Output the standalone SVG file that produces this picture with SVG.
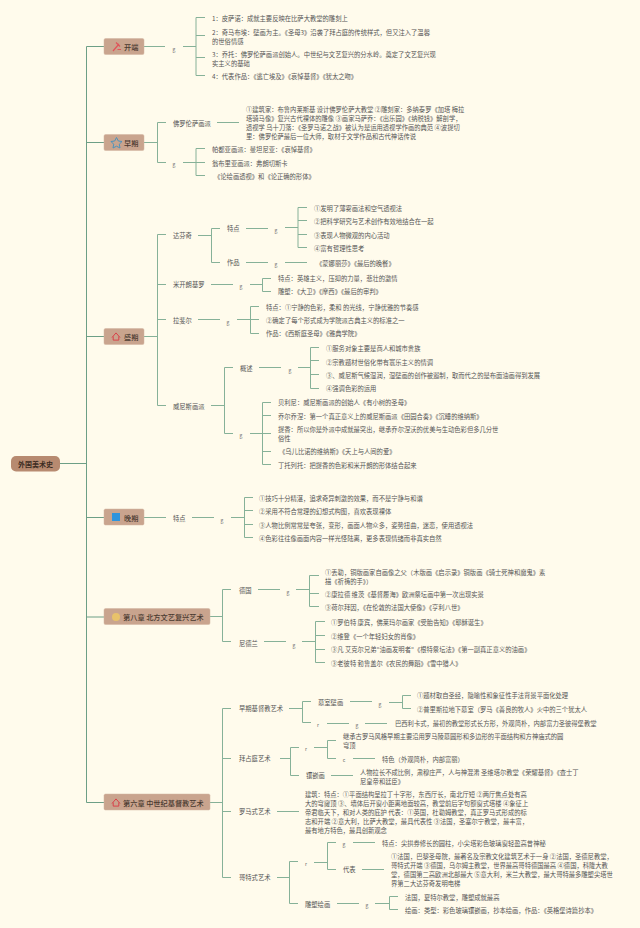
<svg xmlns="http://www.w3.org/2000/svg" xmlns:xlink="http://www.w3.org/1999/xlink" width="640" height="928" viewBox="0 0 640 928">
<style>
text{font-family:"Noto Sans CJK SC","Noto Sans",sans-serif;font-size:6.3px;fill:#555;dominant-baseline:central}
.l{fill:none;stroke:#86b198;stroke-width:1}
.m{fill:none;stroke:#6d9f86;stroke-width:1}
.c{fill:#c9a48e;stroke:#d3b4a0;stroke-width:.5}
.ct{font-size:7.2px;fill:#4a3a30;font-weight:500}
.g{font-size:5px;fill:#666;text-anchor:middle}
</style>
<defs>
<g id="house"><path d="M-4 1 0-3.6 4 1M-2.8 0V3.6H2.8V0" fill="none" stroke="#d8434a" stroke-width="1"/></g>
</defs>
<rect width="640" height="928" fill="#fffbec"/>
<g id="connectors">
<path class="m" d="M60 463.500H86.500M86.500 46.500V802.500M86.500 46.500H104M86.500 142.500H104M86.500 336.500H104M86.500 517.500H104M86.500 617H104M86.500 802.500H104"/>
<path class="l" d="M144 46.500H165M183 46.500H196M196 17.500V75.500M196 17.500H205M196 35.500H205M196 57.500H205M196 75.500H205"/>
<path class="l" d="M144 142.500H157.500M157.500 122.500V162.500M157.500 122.500H166M157.500 162.500H166M217 122.500H239M183 162.500H205M196 148.500V175.500M196 148.500H205M196 175.500H205"/>
<path class="l" d="M144 336.500H157.500M157.500 234.500V405.500M157.500 234.500H166M157.500 284.500H166M157.500 319.500H166M157.500 405.500H166"/>
<path class="l" d="M198 235.500H211.500M211.500 228.500V262.500M211.500 228.500H220M211.500 262.500H220M246 228.500H268M285 227.500H298M298 207.500V247.500M298 207.500H307M298 220.500H307M298 234.500H307M298 247.500H307M246 262.500H268M285 262.500H307"/>
<path class="l" d="M211 284.500H233M250 284.500H262.500M262.500 278.500V291.500M262.500 278.500H271M262.500 291.500H271"/>
<path class="l" d="M198 319.500H220M237 319.500H250.500M250.500 306.500V333.500M250.500 306.500H259M250.500 319.500H259M250.500 333.500H259"/>
<path class="l" d="M211 405.500H224.500M224.500 367.500V433.500M224.500 367.500H233M224.500 433.500H233M259 367.500H281M298 367.500H310.500M310.500 347.500V388.500M310.500 347.500H319M310.500 360.500H319M310.500 374.500H319M310.500 388.500H319M250 433.500H271M262.500 402.500V464.500M262.500 402.500H271M262.500 415.500H271M262.500 451.500H271M262.500 464.500H271"/>
<path class="l" d="M144 517.500H166M192 517.500H214M231 517.500H244.500M244.500 497.500V537.500M244.500 497.500H253M244.500 510.500H253M244.500 524.500H253M244.500 537.500H253"/>
<path class="l" d="M210 616.500H222.500M222.500 589.500V641.500M222.500 589.500H231M222.500 641.500H231M258 589.500H280M296 589.500H309.500M309.500 575.500V606.500M309.500 575.500H319M309.500 593.500H319M309.500 606.500H319M264 641.500H286M302 641.500H315.500M315.500 621.500V662.500M315.500 621.500H325M315.500 635.500H325M315.500 649.500H325M315.500 662.500H325"/>
<path class="l" d="M210 802.500H222.500M222.500 708.500V877.500M222.500 708.500H231M222.500 758.500H231M222.500 811.500H231M222.500 877.500H231"/>
<path class="l" d="M289 708.500H302.500M302.500 701.500V722.500M302.500 701.500H311M302.500 722.500H311M350 701.500H372M389 702.500H402.500M402.500 695.500V708.500M402.500 695.500H411M402.500 708.500H411M327 723.500H349M365 723.500H387"/>
<path class="l" d="M280 758.500H290.500M290.500 747.500V775.500M290.500 747.500H299M290.500 775.500H299M314 747.500H327.500M327.500 740.500V758.500M327.500 740.500H336M327.500 758.500H336M353 758.500H375M331 775.500H353"/>
<path class="l" d="M277 811.500H299"/>
<path class="l" d="M277 877.500H289.500M289.500 861.500V903.500M289.500 861.500H298M289.500 903.500H298M314 862.500H327.500M327.500 842.500V869.500M327.500 842.500H336M327.500 869.500H336M353 842.500H375M362 869.500H384M337 903.500H359M375 903.500H389.500M389.500 896.500V909.500M389.500 896.500H398M389.500 909.500H398"/>
</g>
<g id="root"><rect x="11" y="456" width="49" height="15.500" rx="5" fill="#b78a70"/><text x="35.500" y="464" text-anchor="middle" style="font-size:7px;font-weight:700;fill:#3c2c22">外国美术史</text></g>

<g id="n-kaiduan"><rect class="c" x="104" y="38.500" width="40" height="16" rx="1.500"/><path d="M113 51 119 44M116 42.500 120 46.500M117.500 49.500H121" fill="none" stroke="#e0545a" stroke-width="1.200"/><text class="ct" x="124" y="47">开端</text>
<text x="212" y="18.500">1：皮萨诺：成就主要反映在比萨大教堂的雕刻上</text>
<text x="212" y="32">2：奇马布埃：壁画为主。《圣母3》沿袭了拜占庭的传统样式，但又注入了温馨</text><text x="212" y="41">的世俗情感</text>
<text x="212" y="54">3：乔托：佛罗伦萨画派创始人。中世纪与文艺复兴的分水岭。奠定了文艺复兴现</text><text x="212" y="63">实主义的基础</text>
<text x="212" y="76">4：代表作品：《逃亡埃及》《哀悼基督》《犹太之吻》</text><text class="g" x="174" y="48">g</text></g>

<g id="n-zaoqi"><rect class="c" x="104" y="134.500" width="40" height="16" rx="1.500"/><path d="M116.500 137.500 118.300 141 122 141.500 119.300 144.200 120 148 116.500 146.200 113 148 113.700 144.200 111 141.500 114.700 141Z" fill="none" stroke="#4c93bd" stroke-width="1"/><text class="ct" x="124" y="143">早期</text>
<text x="173" y="123">佛罗伦萨画派</text>
<text x="246" y="109.500">①建筑家：布鲁内莱斯基 设计佛罗伦萨大教堂 ②雕刻家：多纳泰罗《加塔 梅拉</text>
<text x="246" y="118.500">塔骑马像》复兴古代裸体的雕像 ③画家马萨乔：《出乐园》《纳税钱》解剖学，</text>
<text x="246" y="127">透视学 乌十刀落：《圣罗马诺之战》被认为是运用透视学作画的典范 ④波提切</text>
<text x="246" y="136">里：佛罗伦萨最后一位大师，取材于文学作品和古代神话传说</text>
<text class="g" x="174" y="163.500">g</text>
<text x="212" y="149.500">帕都亚画派：曼坦尼亚：《哀悼基督》</text>
<text x="212" y="163">翁布里亚画派：弗朗切斯卡</text>
<text x="214" y="176">《论绘画透视》和《论正确的形体》</text></g>

<g id="n-shengqi"><rect class="c" x="104" y="328.500" width="40" height="16" rx="1.500"/><use href="#house" x="116" y="336.500"/><text class="ct" x="124" y="337">盛期</text>
<text x="173" y="235.500">达芬奇</text><text x="227" y="228">特点</text><text class="g" x="276" y="229">g</text>
<text x="314" y="208">①发明了薄雾画法和空气透视法</text><text x="314" y="221.500">②把科学研究与艺术创作有效地结合在一起</text><text x="314" y="235">③表现人物微观的内心活动</text><text x="314" y="248">④富有哲理性思考</text>
<text x="227" y="262.500">作品</text><text class="g" x="276" y="263.500">g</text><text x="316" y="263">《蒙娜丽莎》《最后的晚餐》</text>
<text x="173" y="284.500">米开朗基罗</text><text class="g" x="241" y="285.500">g</text><text x="278" y="278.500">特点：英雄主义，压抑的力量，悲壮的激情</text><text x="278" y="291.500">雕塑：《大卫》《摩西》《最后的审判》</text>
<text x="173" y="320">拉斐尔</text><text class="g" x="228" y="321">g</text><text x="266" y="307">特点：①宁静的色彩，柔和 的光线，宁静优雅的节奏感</text><text x="266" y="320">②确定了每个形式成为学院派古典主义的标准之一</text><text x="266" y="333">作品：《西斯庭圣母》《雅典学院》</text>
<text x="173" y="406">威尼斯画派</text><text x="240" y="368.500">概述</text><text class="g" x="290" y="369">g</text>
<text x="326" y="348.500">①服务对象主要是商人和城市贵族</text><text x="326" y="362">②宗教题材世俗化带有寰乐主义的情调</text><text x="326" y="375">③、威尼斯气候湿润，湿壁画的创作被遏制，取而代之的是布面油画得到发展</text><text x="326" y="388.500">④强调色彩的运用</text>
<text class="g" x="241" y="434.500">g</text>
<text x="278" y="402.500">贝利尼：威尼斯画派的创始人《有小树的圣母》</text><text x="278" y="416">乔尔乔涅：第一个真正意义上的威尼斯画派《田园合奏》《沉睡的维纳斯》</text><text x="278" y="429">提香：所以你是外派中成就最突出，继承乔尔涅沃的优美与生动色彩但多几分世</text><text x="278" y="438">俗性</text><text x="279" y="451.500">《乌儿比诺的维纳斯》《天上与人间的爱》</text><text x="278" y="465">丁托列托：把提香的色彩和米开朗的形体结合起来</text></g>

<g id="n-wanqi"><rect class="c" x="104" y="509" width="40" height="16" rx="1.500"/><rect x="112" y="513" width="8" height="8" fill="#2f94dc"/><text class="ct" x="124" y="518">晚期</text>
<text x="173" y="518">特点</text><text class="g" x="222" y="519">g</text>
<text x="259" y="498">①技巧十分精湛，追求奇异刺激的效果，而不是宁静与和谐</text><text x="259" y="511">②采用不符合常理的幻想式构图，喜欢表现裸体</text><text x="259" y="525">③人物比例常常是夸张，变形，画面人物众多，姿势扭曲，迷恋，使用透视法</text><text x="259" y="538">④色彩往往像画面内容一样光怪陆离，更多表现情绪而非真实自然</text></g>

<g id="n-ch8"><rect class="c" x="104" y="608.500" width="106" height="16" rx="1.500"/><circle cx="116" cy="617" r="4" fill="#e8c26a"/><text class="ct" x="123" y="617">第八章 北方文艺复兴艺术</text>
<text x="239" y="590">德国</text><text class="g" x="288" y="591">g</text>
<text x="325" y="572">①丢勒，铜版画家自画像之父（木版画《启示录》铜版画《骑士死神和魔鬼》素</text><text x="325" y="581">描《祈祷的手》）</text><text x="325" y="594">②康拉德 维茨《基督履海》欧洲祭坛画中第一次出现实景</text><text x="325" y="607.500">③荷尔拜因，《在伦敦的法国大使像》《亨利八世》</text>
<text x="239" y="643">尼德兰</text><text class="g" x="294" y="644">g</text>
<text x="331" y="622.500">①罗伯特 康宾，佛莱玛尔画家《受胎告知》《耶稣诞生》</text><text x="331" y="636">②维登《一个年轻妇女的肖像》</text><text x="331" y="649.500">③凡 艾克尔兄弟"油画发明者"《根特祭坛法》《第一副真正意义的油画》</text><text x="331" y="663">③老彼特 勃鲁盖尔《农民的舞蹈》《雪中猎人》</text></g>

<g id="n-ch6"><rect class="c" x="104" y="794" width="106" height="16" rx="1.500"/><use href="#house" x="116" y="802.500"/><text class="ct" x="123" y="802.500">第六章 中世纪基督教艺术</text>
<text x="239" y="708.500">早期基督教艺术</text><text x="318" y="702">墓室壁画</text><text class="g" x="380" y="703.500">g</text>
<text x="417" y="695.500">①题材取自圣经，隐喻性和象征性手法背景平面化处理</text><text x="417" y="709">②普里斯拉地下墓室（罗马《善良的牧人》火中的三个犹太人</text>
<text class="g" x="318" y="724">r</text><text class="g" x="357" y="724.500">g</text><text x="395" y="723">巴西利卡式，最初的教堂形式长方形，外观简朴，内部富力圣彼得堡教堂</text>
<text x="239" y="758.500">拜占庭艺术</text><text class="g" x="306" y="748">r</text>
<text x="343" y="736">继承古罗马风格早期主要沿用罗马陵墓圆形和多边形的平面结构和方神庙式的圆</text><text x="343" y="745">穹顶</text>
<text class="g" x="344" y="759.500">c</text><text x="382" y="759">特色（外观简朴，内部富丽）</text>
<text x="306" y="775.500">镶嵌画</text><text x="360" y="772">人物拉长不成比例，肃穆庄严，人与神混淆 圣维塔尔教堂《荣耀基督》《查士丁</text><text x="360" y="781">尼皇帝和廷臣》</text>
<text x="239" y="811.500">罗马式艺术</text>
<text x="305" y="794">建筑：特点：①平面结构呈拉丁十字形，东西厅长，南北厅短 ②两厅焦点处有高</text>
<text x="305" y="803">大的穹窿顶 ③、墙体后开窗小距离地面较高，教堂前后字句额窗式塔楼 ④象征上</text>
<text x="305" y="812">帝君临天下，和对人类的庇护 代表：①英国，杜勒姆教堂，真正罗马式形成的标</text>
<text x="305" y="821">志和开端 ②意大利，比萨大教堂，最具代表性 ③法国，圣塞尔宁教堂，最丰富，</text>
<text x="305" y="830">最有地方特色，最具创新观念</text>
<text x="239" y="877">哥特式艺术</text><text class="g" x="306" y="863.500">r</text><text class="g" x="344" y="843.500">g</text>
<text x="382" y="843">特点：尖拱券修长的圆柱，小尖塔彩色玻璃窗轻盈高昔神秘</text>
<text x="343" y="869.500">代表</text>
<text x="391" y="856.500">①法国，巴黎圣母院，最著名及宗教文化建筑艺术于一身 ②法国，圣德尼教堂，</text>
<text x="391" y="865.500">哥特式开端 ③德国，乌尔姆主教堂，世界最高哥特德国最高 ④德国，科隆大教</text>
<text x="391" y="874">堂，德国第二高欧洲北部最大 ⑤意大利，米兰大教堂，最大哥特最多雕塑尖塔世</text>
<text x="391" y="883">界第二大达芬奇发明电梯</text>
<text x="305" y="904">雕塑绘画</text><text class="g" x="367" y="904.500">g</text>
<text x="405" y="897">法国，夏特尔教堂，雕塑成就最高</text>
<text x="405" y="910">绘画：类型：彩色玻璃镶嵌画，抄本绘画，作品：《英格堡诗篇抄本》</text></g>
</svg>
